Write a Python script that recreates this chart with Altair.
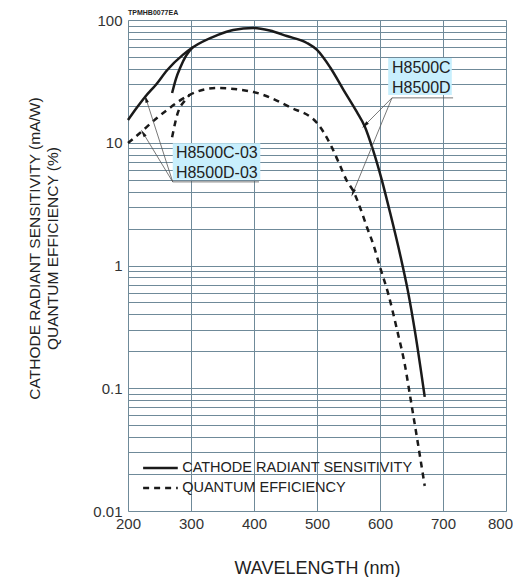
import altair as alt
import pandas as pd

# ---- data ----
# cathode radiant sensitivity (mA/W), UV glass type (-03)
crs03_wl = [200, 213, 227, 245, 262, 287, 303, 341, 367, 399, 425, 452, 484, 500, 521, 542, 563, 576, 589, 603, 616, 633, 644, 656, 671]
crs03_val = [15.3, 19.0, 23.6, 30.0, 39.0, 52.0, 60.0, 75.0, 83.0, 86.0, 82.0, 74.0, 65.0, 57.0, 41.0, 27.0, 17.9, 13.5, 8.7, 4.94, 2.7, 1.16, 0.63, 0.28, 0.085]
# cathode radiant sensitivity, borosilicate type (H8500C / H8500D), until it joins
crs_wl = [270, 276, 283, 292, 303]
crs_val = [25.4, 33.0, 41.0, 51.0, 60.0]
# quantum efficiency (%), UV glass type (-03)
qe03_wl = [200, 219, 240, 262, 298, 341, 399, 457, 500, 523, 535, 547, 558, 568, 579, 590, 600, 613, 627, 640, 648, 660, 671]
qe03_val = [9.95, 12.0, 15.0, 18.5, 24.6, 27.9, 25.9, 19.5, 14.5, 9.3, 6.8, 4.94, 4.0, 3.0, 2.07, 1.45, 0.97, 0.59, 0.30, 0.15, 0.085, 0.036, 0.016]
# quantum efficiency, borosilicate type, until it joins
qe_wl = [270, 279, 290, 298]
qe_val = [11.1, 17.5, 22.0, 24.6]

legend_names = ["CATHODE RADIANT SENSITIVITY", "QUANTUM EFFICIENCY"]
y_grid = [m * d for d in [0.01, 0.1, 1, 10] for m in range(1, 10)] + [100]
x_ticks = [200, 300, 400, 500, 600, 700, 800]

rows = []
for s, wl, val, kind in [
    ("crs03", crs03_wl, crs03_val, legend_names[0]),
    ("crs", crs_wl, crs_val, legend_names[0]),
    ("qe03", qe03_wl, qe03_val, legend_names[1]),
    ("qe", qe_wl, qe_val, legend_names[1]),
]:
    for w, v in zip(wl, val):
        rows.append({"wl": w, "val": v, "series": s, "kind": kind})
df = pd.DataFrame(rows)

# annotations (data space)
labels = pd.DataFrame([
    {"wl": 619, "val": 40.7, "t": "H8500C"},
    {"wl": 619, "val": 27.9, "t": "H8500D"},
    {"wl": 276, "val": 8.2, "t": "H8500C-03"},
    {"wl": 276, "val": 5.67, "t": "H8500D-03"},
])
label_boxes = pd.DataFrame([
    {"x1": 613, "x2": 714, "y1": 49, "y2": 24.5},
    {"x1": 271, "x2": 410, "y1": 9.9, "y2": 5.0},
])
leaders = pd.DataFrame([
    {"x1": 619, "y1": 23.2, "x2": 716, "y2": 23.2},
    {"x1": 619, "y1": 23.2, "x2": 576, "y2": 13.9},
    {"x1": 619, "y1": 23.2, "x2": 557, "y2": 3.9},
    {"x1": 271, "y1": 4.8, "x2": 408, "y2": 4.8},
    {"x1": 271, "y1": 4.8, "x2": 228.6, "y2": 22.8},
    {"x1": 271, "y1": 4.8, "x2": 224, "y2": 12.0},
])
arrows = pd.DataFrame([
    {"wl": 576, "val": 13.9, "ang": 225},
    {"wl": 557, "val": 3.9, "ang": 202},
    {"wl": 228.6, "val": 22.8, "ang": 342},
    {"wl": 224, "val": 12.0, "ang": 328},
])
legend_rows = pd.DataFrame([
    {"x1": 224, "x2": 279, "tx": 286, "val": 0.0224, "t": legend_names[0], "dash": "solid"},
    {"x1": 224, "x2": 279, "tx": 286, "val": 0.0154, "t": legend_names[1], "dash": "dashed"},
])

FONT = "Liberation Sans"
INK = "#1a1a1a"
BG = "#c8effd"
xs = alt.Scale(domain=[200, 800], nice=False, zero=False)
ys = alt.Scale(type="log", domain=[0.01, 100], nice=False)

x_axis = alt.Axis(
    values=x_ticks, grid=True, ticks=False, domain=False, labelPadding=5, labelFlush=False,
    labelOffset={"condition": {"test": "datum.value == 800", "value": -6}, "value": 0},
    labelFontSize=15, labelColor="#333", labelFont=FONT,
    title="WAVELENGTH (nm)", titleFontSize=18, titleFont=FONT, titleFontWeight="normal",
    titleColor="#222", titleY=62, titleBaseline="alphabetic",
    gridColor="#6f8a99", gridWidth=1)
y_axis = alt.Axis(
    values=y_grid, grid=True, ticks=False, domain=False, labelPadding=6,
    labelExpr="abs(log(datum.value)/LN10 - round(log(datum.value)/LN10)) < 0.001 ? format(datum.value, '~g') : ''",
    labelFontSize=15, labelColor="#333", labelFont=FONT, labelOverlap=False,
    title=["CATHODE RADIANT SENSITIVITY (mA/W)", "QUANTUM EFFICIENCY (%)"],
    titleFontSize=15.5, titleFont=FONT, titleFontWeight="normal", titleColor="#222",
    titleAngle=-90, titleX=-86, titleY=228, titleAlign="center", titleBaseline="bottom",
    titleLineHeight=18, gridColor="#6f8a99", gridWidth=1)

boxes = alt.Chart(label_boxes).mark_rect(fill=BG, opacity=1, strokeWidth=0).encode(
    x=alt.X("x1:Q", scale=xs, axis=x_axis), x2="x2:Q",
    y=alt.Y("y1:Q", scale=ys, axis=y_axis), y2="y2:Q")

solid = alt.Chart(df[df.kind == legend_names[0]]).mark_line(
    color=INK, strokeWidth=2.5, interpolate="monotone").encode(
    x="wl:Q", y="val:Q", detail="series:N", order="wl:Q")
dashed = alt.Chart(df[df.kind == legend_names[1]]).mark_line(
    color=INK, strokeWidth=2.5, strokeDash=[6, 5], interpolate="monotone").encode(
    x="wl:Q", y="val:Q", detail="series:N", order="wl:Q")

rules = alt.Chart(leaders).mark_rule(color="#555", strokeWidth=0.8).encode(
    x="x1:Q", y="y1:Q", x2="x2:Q", y2="y2:Q")

heads = alt.Chart(arrows).mark_point(shape="M0,-1L0.45,1L-0.45,1Z", filled=True, color=INK,
                                     size=60, opacity=1).encode(
    x="wl:Q", y="val:Q", angle=alt.Angle("ang:Q", scale=None))

texts = alt.Chart(labels).mark_text(align="left", baseline="middle", fontSize=16, font=FONT,
                                    color="#222").encode(x="wl:Q", y="val:Q", text="t:N")

leg_solid = alt.Chart(legend_rows[legend_rows.dash == "solid"]).mark_rule(
    color=INK, strokeWidth=2.5).encode(x="x1:Q", x2="x2:Q", y="val:Q")
leg_dash = alt.Chart(legend_rows[legend_rows.dash == "dashed"]).mark_rule(
    color=INK, strokeWidth=2.5, strokeDash=[6, 5]).encode(x="x1:Q", x2="x2:Q", y="val:Q")
leg_text = alt.Chart(legend_rows).mark_text(
    align="left", baseline="middle", fontSize=14.5, font=FONT, color="#222").encode(
    x="tx:Q", y="val:Q", text="t:N")

code = alt.Chart(pd.DataFrame({"t": ["TPMHB0077EA"]})).mark_text(
    align="left", baseline="top", fontSize=7, font=FONT, color="#222", fontWeight="bold").encode(
    x=alt.value(0), y=alt.value(-11), text="t:N")

chart = alt.layer(boxes, solid, dashed, rules, heads, texts, leg_solid, leg_dash, leg_text, code).properties(
    width=378, height=491,
    autosize=alt.AutoSizeParams(type="none"),
    padding={"left": 120, "top": 12, "right": 7, "bottom": 66},
).configure_view(fill=BG, stroke="#555", strokeWidth=2).configure(background="white")

chart.save("out.html", embed_options={"renderer": "svg", "actions": False})
